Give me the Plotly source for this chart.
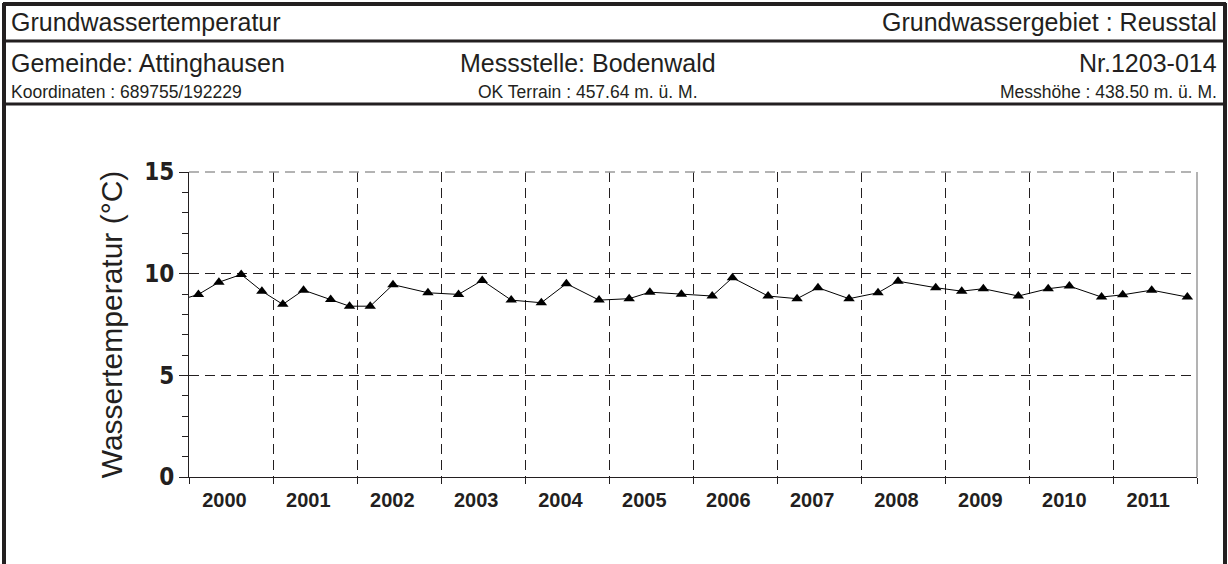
import plotly.graph_objects as go

# Messdaten Grundwassertemperatur (erster Punkt liegt vor dem Achsenbereich)
dates = [
    "1999-11-07",
    "2000-02-11", "2000-05-10", "2000-08-15", "2000-11-13",
    "2001-02-12", "2001-05-13", "2001-09-08", "2001-11-29",
    "2002-02-27", "2002-06-06", "2002-11-05",
    "2003-03-18", "2003-06-29", "2003-11-02",
    "2004-03-12", "2004-06-29", "2004-11-18",
    "2005-03-29", "2005-06-27", "2005-11-11",
    "2006-03-25", "2006-06-21", "2006-11-23",
    "2007-03-29", "2007-06-28", "2007-11-10",
    "2008-03-15", "2008-06-10", "2008-11-21",
    "2009-03-14", "2009-06-16", "2009-11-15",
    "2010-03-25", "2010-06-25", "2010-11-12",
    "2011-02-12", "2011-06-18", "2011-11-20",
]
temps = [
    8.65,
    8.98, 9.58, 9.96, 9.14,
    8.49, 9.19, 8.73, 8.40,
    8.40, 9.46, 9.06,
    8.98, 9.67, 8.70,
    8.57, 9.51, 8.70,
    8.77, 9.09, 8.99,
    8.90, 9.80, 8.90,
    8.77, 9.31, 8.77,
    9.06, 9.63, 9.31,
    9.14, 9.26, 8.90,
    9.26, 9.39, 8.85,
    8.96, 9.19, 8.85,
]
years = [str(y) for y in range(2000, 2012)]
year_label_pos = [f"{y}-06-03" for y in years]
y_ticks = [0, 5, 10, 15]

# Figure geometry in pixels
W, H = 1228, 564
L, R, T, B = 189, 1197, 172, 477


def px(x):
    return (x - L) / (R - L)


def py(y):
    return (B - y) / (B - T)


FONT = "Liberation Sans, Arial, sans-serif"
NARROW = "Liberation Sans Narrow, Arial Narrow, DejaVu Sans Condensed, Liberation Sans, sans-serif"
INK = "#231f20"

fig = go.Figure(
    go.Scatter(
        x=dates,
        y=temps,
        mode="lines+markers",
        line={"color": "black", "width": 1},
        marker={"symbol": "triangle-up", "size": 10, "color": "black"},
        hovertemplate="%{x|%d.%m.%Y}: %{y:.2f} °C<extra></extra>",
    )
)

fig.update_layout(
    width=W,
    height=H,
    margin={"l": L, "r": W - R, "t": T, "b": H - B, "pad": 0},
    paper_bgcolor="white",
    plot_bgcolor="white",
    showlegend=False,
    font={"family": FONT, "color": INK},
    xaxis={
        "type": "date",
        "range": ["2000-01-01", "2012-01-01"],
        "tickvals": year_label_pos,
        "ticktext": years,
        "ticks": "outside",
        "ticklen": 5,
        "tickcolor": "rgba(0,0,0,0)",
        "tickfont": {"family": FONT, "size": 20, "color": INK, "weight": "bold"},
        "showgrid": False,
        "showline": True,
        "linecolor": INK,
        "linewidth": 1,
        "zeroline": False,
        "minor": {
            "tick0": "2000-01-01",
            "dtick": "M12",
            "ticks": "outside",
            "ticklen": 6,
            "tickcolor": INK,
            "showgrid": True,
            "gridcolor": INK,
            "griddash": "10px,6px",
            "gridwidth": 1,
        },
    },
    yaxis={
        "range": [0, 15],
        "tickvals": y_ticks,
        "ticks": "outside",
        "ticklen": 9,
        "tickcolor": INK,
        "tickfont": {"family": NARROW, "size": 24, "color": INK, "weight": "bold"},
        "showgrid": True,
        "gridcolor": INK,
        "griddash": "10px,6px",
        "gridwidth": 1,
        "showline": True,
        "linecolor": INK,
        "linewidth": 1,
        "zeroline": False,
        "minor": {"dtick": 1, "ticks": "outside", "ticklen": 6, "tickcolor": INK},
        "title": {
            "text": "Wassertemperatur (°C)",
            "font": {"family": FONT, "size": 30, "color": INK},
            "standoff": 12,
        },
    },
)

# top and right frame edges of plot area (light grey in the original)
fig.add_shape(type="line", xref="paper", yref="paper", x0=0, x1=1, y0=1, y1=1,
              line={"color": "#9a9a9a", "width": 1.5, "dash": "10px,6px"})
fig.add_shape(type="line", xref="paper", yref="paper", x0=1, x1=1, y0=0, y1=1,
              line={"color": "#9a9a9a", "width": 1.5})

# outer frame and header lines
frame = {"color": INK, "width": 4}
fig.add_shape(type="line", xref="paper", yref="paper", x0=px(3), x1=px(1226), y0=py(4), y1=py(4), line=frame)
fig.add_shape(type="line", xref="paper", yref="paper", x0=px(4), x1=px(4), y0=py(3), y1=py(570), line=frame)
fig.add_shape(type="line", xref="paper", yref="paper", x0=px(1225), x1=px(1225), y0=py(3), y1=py(570), line=frame)
fig.add_shape(type="line", xref="paper", yref="paper", x0=px(4), x1=px(1225), y0=py(41), y1=py(41),
              line={"color": INK, "width": 3})
fig.add_shape(type="line", xref="paper", yref="paper", x0=px(4), x1=px(1225), y0=py(104), y1=py(104),
              line={"color": INK, "width": 3})

header = [
    ("Grundwassertemperatur", 9, 22, "left", 25),
    ("Grundwassergebiet : Reusstal", 1219, 22, "right", 25),
    ("Gemeinde: Attinghausen", 9, 63, "left", 25),
    ("Messstelle: Bodenwald", 588, 63, "center", 25),
    ("Nr.1203-014", 1219, 63, "right", 25),
    ("Koordinaten : 689755/192229", 9, 92, "left", 17.5),
    ("OK Terrain : 457.64 m. ü. M.", 588, 92, "center", 17.5),
    ("Messhöhe : 438.50 m. ü. M.", 1219, 92, "right", 17.5),
]
for text, x, y, anchor, size in header:
    fig.add_annotation(
        text=text, xref="paper", yref="paper", x=px(x), y=py(y),
        xanchor=anchor, yanchor="middle", showarrow=False,
        font={"family": FONT, "size": size, "color": INK},
    )

fig.write_html(
    "out.html",
    config={"displayModeBar": False},
    post_script="document.body.style.margin='0'; document.body.style.overflow='hidden';",
)
